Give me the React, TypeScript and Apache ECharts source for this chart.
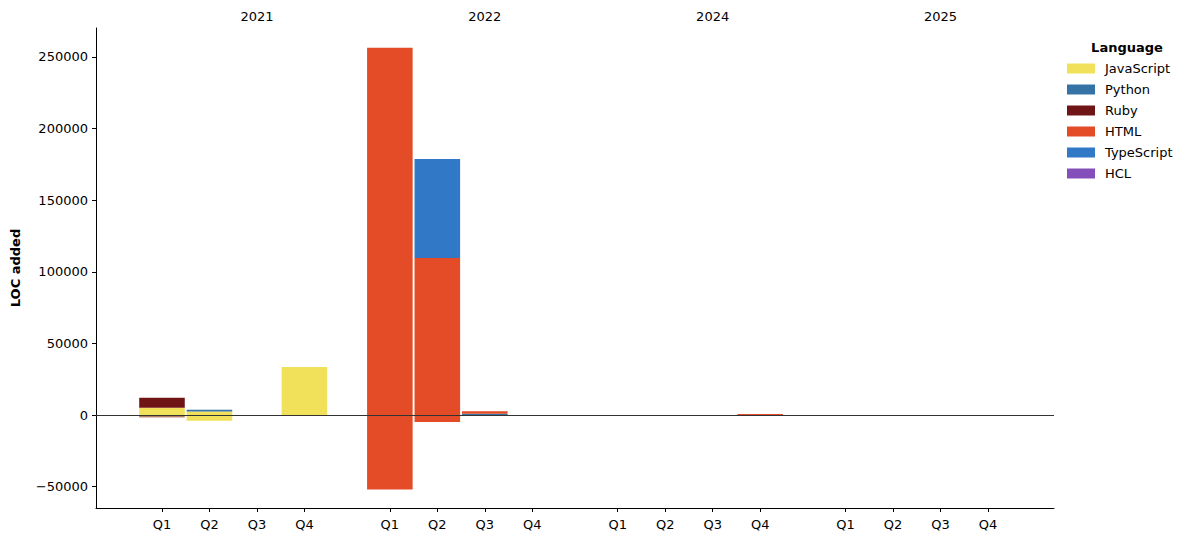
import React, { useEffect, useRef } from "react";
import * as echarts from "echarts";

const years = ["2021", "2022", "2024", "2025"];
const quarters = ["Q1", "Q2", "Q3", "Q4"];
const languages = ["JavaScript", "Python", "Ruby", "HTML", "TypeScript", "HCL"];
const colors = ["#f1e05a", "#3572A5", "#701516", "#e34c26", "#3178c6", "#844FBA"];

// 16 quarters: 2021 Q1..Q4, 2022 Q1..Q4, 2024 Q1..Q4, 2025 Q1..Q4
const jsAdded = [5100, 2500, 0, 33500, 0, 0, 0, 0, 0, 0, 0, 0, 0, 0, 0, 0];
const jsRemoved = [-1000, -4000, 0, 0, 0, 0, 0, 0, 0, 0, 0, 0, 0, 0, 0, 0];
const pyAdded = [0, 1200, 0, 0, 0, 0, 800, 0, 0, 0, 0, 0, 0, 0, 0, 0];
const pyRemoved = [0, 0, 0, 0, 0, 0, 0, 0, 0, 0, 0, 0, 0, 0, 0, 0];
const rubyAdded = [7000, 0, 0, 0, 0, 0, 0, 0, 0, 0, 0, 0, 0, 0, 0, 0];
const rubyRemoved = [-600, 0, 0, 0, 0, 0, 0, 0, 0, 0, 0, 0, 0, 0, 0, 0];
const htmlAdded = [0, 0, 0, 0, 256500, 109600, 1900, 0, 0, 0, 0, 700, 0, 0, 0, 0];
const htmlRemoved = [0, 0, 0, 0, -52000, -4900, 0, 0, 0, 0, 0, 0, 0, 0, 0, 0];
const tsAdded = [0, 0, 0, 0, 0, 69100, 0, 0, 0, 0, 0, 0, 0, 0, 0, 0];
const tsRemoved = [0, 0, 0, 0, 0, 0, 0, 0, 0, 0, 0, 0, 0, 0, 0, 0];
const hclAdded = [0, 0, 0, 0, 0, 0, 0, 0, 0, 0, 0, 0, 60, 0, 0, 0];
const hclRemoved = [0, 0, 0, 0, 0, 0, 0, 0, 0, 0, 0, 0, 0, 0, 0, 0];

const yTicks = [-50000, 0, 50000, 100000, 150000, 200000, 250000];

const addedByLang = [jsAdded, pyAdded, rubyAdded, htmlAdded, tsAdded, hclAdded];
const removedByLang = [jsRemoved, pyRemoved, rubyRemoved, htmlRemoved, tsRemoved, hclRemoved];

const YEAR_STEP = 4.8;
const BAR_W = 0.96;
const X_MIN = -1.39;
const X_MAX = 18.79;
const Y_MIN = -64944;
const Y_MAX = 270251;

const slotX = (i: number) => Math.floor(i / 4) * YEAR_STEP + (i % 4);
const quarterPositions = Array.from({ length: years.length * 4 }, (_, i) => slotX(i));
const yearPositions = years.map((_, y) => y * YEAR_STEP + 2);

const FONT = "DejaVu Sans";

export default function App() {
  const ref = useRef<HTMLDivElement>(null);
  useEffect(() => {
    if (!ref.current) return;
    const chart = echarts.init(ref.current, undefined, { renderer: "svg" });

    const posBase = new Array(16).fill(0);
    const negBase = new Array(16).fill(0);
    const series: any[] = languages.map((name, li) => {
      const data: number[][] = [];
      for (let i = 0; i < 16; i++) {
        const a = addedByLang[li][i];
        const r = removedByLang[li][i];
        if (a > 0) {
          data.push([slotX(i), posBase[i], posBase[i] + a]);
          posBase[i] += a;
        }
        if (r < 0) {
          data.push([slotX(i), negBase[i], negBase[i] + r]);
          negBase[i] += r;
        }
      }
      return {
        type: "custom",
        name,
        xAxisIndex: 0,
        yAxisIndex: 0,
        itemStyle: { color: colors[li] },
        encode: { x: 0, y: [1, 2] },
        data,
        renderItem: (params: any, api: any) => {
          const x = api.value(0);
          const p0 = api.coord([x - BAR_W / 2, api.value(1)]);
          const p1 = api.coord([x + BAR_W / 2, api.value(2)]);
          return {
            type: "rect",
            shape: {
              x: p0[0],
              y: Math.min(p0[1], p1[1]),
              width: p1[0] - p0[0],
              height: Math.abs(p1[1] - p0[1]),
            },
            style: { fill: colors[li] },
          };
        },
      };
    });

    series.push({
      type: "custom",
      name: "zero",
      silent: true,
      z: 10,
      data: [[0, 0]],
      encode: { x: 0, y: 1 },
      renderItem: (params: any, api: any) => {
        const a = api.coord([X_MIN, 0]);
        const b = api.coord([X_MAX, 0]);
        const y = Math.round(a[1]) + 0.5;
        return {
          type: "line",
          shape: { x1: a[0], y1: y, x2: b[0], y2: y },
          style: { stroke: "#333333", lineWidth: 1 },
        };
      },
    });

    const option: any = {
      animation: false,
      textStyle: { fontFamily: FONT },
      title: {
        text: "Language",
        left: 1122,
        top: 36,
        textAlign: "center",
        textStyle: { fontFamily: FONT, fontSize: 13, fontWeight: "bold", color: "#000" },
      },
      legend: {
        data: languages,
        orient: "vertical",
        left: 1062,
        top: 57,
        itemWidth: 28,
        itemHeight: 10,
        itemGap: 8,
        icon: "rect",
        textStyle: { fontFamily: FONT, fontSize: 13, color: "#000", padding: [0, 0, 0, 5] },
      },
      grid: { left: 96, top: 28, width: 958, height: 480, containLabel: false },
      xAxis: [
        {
          type: "value",
          position: "bottom",
          min: X_MIN,
          max: X_MAX,
          splitLine: { show: false },
          axisLine: { show: true, onZero: false, lineStyle: { color: "#000", width: 1 } },
          axisTick: {
            show: true,
            customValues: quarterPositions,
            length: 4,
            lineStyle: { color: "#000" },
          },
          axisLabel: {
            customValues: quarterPositions,
            margin: 10,
            fontFamily: FONT,
            fontSize: 13,
            color: "#000",
            formatter: (v: number) => {
              const idx = quarterPositions.findIndex((p) => Math.abs(p - v) < 1e-6);
              return idx >= 0 ? quarters[idx % 4] : "";
            },
          },
        },
        {
          type: "value",
          position: "top",
          min: X_MIN,
          max: X_MAX,
          splitLine: { show: false },
          axisLine: { show: false },
          axisTick: { show: false },
          axisLabel: {
            customValues: yearPositions,
            margin: 5,
            fontFamily: FONT,
            fontSize: 13,
            color: "#000",
            formatter: (v: number) => {
              const idx = yearPositions.findIndex((p) => Math.abs(p - v) < 1e-6);
              return idx >= 0 ? years[idx] : "";
            },
          },
        },
      ],
      yAxis: {
        type: "value",
        min: Y_MIN,
        max: Y_MAX,
        name: "LOC added",
        nameLocation: "middle",
        nameGap: 74,
        nameTextStyle: { fontFamily: FONT, fontSize: 13, fontWeight: "bold", color: "#000" },
        splitLine: { show: false },
        axisLine: { show: true, onZero: false, lineStyle: { color: "#000", width: 1 } },
        axisTick: { show: true, customValues: yTicks, length: 4, lineStyle: { color: "#000" } },
        axisLabel: {
          customValues: yTicks,
          margin: 8,
          fontFamily: FONT,
          fontSize: 13,
          color: "#000",
          formatter: (v: number) => (v < 0 ? "\u2212" + Math.abs(v) : String(v)),
        },
      },
      series,
    };
    chart.setOption(option);
    return () => chart.dispose();
  }, []);
  return (
    <div
      ref={ref}
      style={{ position: "fixed", left: 0, top: 0, width: 1193, height: 542, background: "#fff" }}
    />
  );
}
